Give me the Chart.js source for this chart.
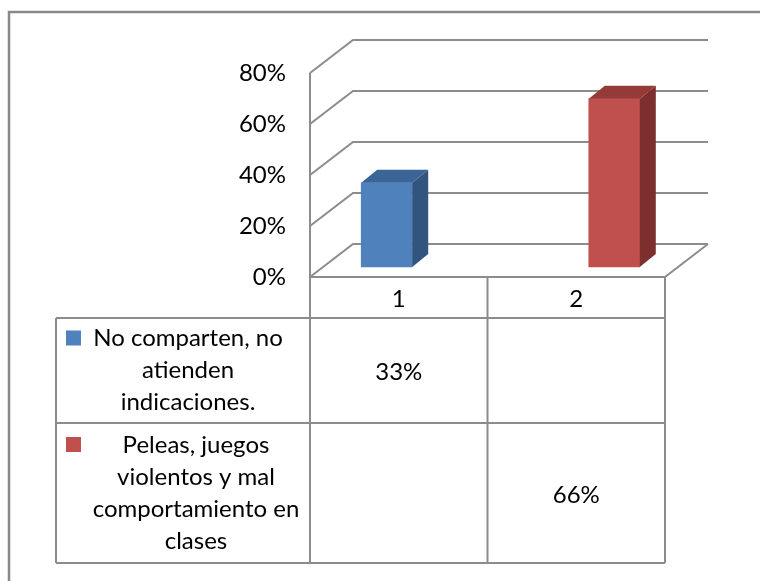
<!DOCTYPE html>
<html lang="es">
<head>
    <meta charset="UTF-8">
    <title>Conductas en clase</title>
    <script src="https://cdn.jsdelivr.net/npm/chart.js"></script>
    <style>
        html, body {
            margin: 0;
            padding: 0;
            background-color: #ffffff;
        }
        .chart-box {
            position: relative;
            width: 760px;
            height: 581px;
        }
    </style>
</head>
<body>
    <div class="chart-box">
        <canvas id="conductasChart"></canvas>
    </div>

    <script>
        // categorias y series
        const categories = ['1', '2'];
        const seriesLabels = [
            ['No comparten, no', 'atienden', 'indicaciones.'],
            ['Peleas, juegos', 'violentos y mal', 'comportamiento en', 'clases']
        ];
        const noComparten = [33, null];
        const peleas = [null, 66];
        const yMax = 80;
        const yStep = 20;

        const FONT = "Lato, 'Liberation Sans', sans-serif";
        const FONT_SIZE = 24;
        const LINE = '#8c8c8c';

        const colors = [
            { front: '#4f81bd', top: '#3b6497', side: '#32557f' },
            { front: '#c0504d', top: '#943b38', side: '#7c2f2d' }
        ];

        // 3D look: floor depth, where the bars sit in it, and bar thickness
        const depth = { dx: 43, dy: -33 };
        const barShift = { dx: 13, dy: -10 };
        const barDepth = { dx: 16, dy: -13 };

        const frame = {
            id: 'frame',
            beforeDraw(chart) {
                const { ctx, width, height } = chart;
                ctx.save();
                ctx.fillStyle = '#ffffff';
                ctx.fillRect(0, 0, width, height);
                ctx.strokeStyle = '#898989';
                ctx.lineWidth = 2.5;
                ctx.beginPath();
                ctx.moveTo(9, height + 5);
                ctx.lineTo(9, 12);
                ctx.lineTo(width + 5, 12);
                ctx.stroke();
                ctx.restore();
            }
        };

        const walls = {
            id: 'walls',
            beforeDatasetsDraw(chart) {
                const { ctx, chartArea: a, scales: { y } } = chart;
                ctx.save();
                ctx.strokeStyle = LINE;
                ctx.lineWidth = 2;
                ctx.beginPath();
                y.ticks.forEach(t => {
                    const py = y.getPixelForValue(t.value);
                    ctx.moveTo(a.left, py);
                    ctx.lineTo(a.left + depth.dx, py + depth.dy);
                    ctx.lineTo(a.right + depth.dx, py + depth.dy);
                });
                ctx.moveTo(a.left, a.top);
                ctx.lineTo(a.left, a.bottom);
                ctx.lineTo(a.right, a.bottom);
                ctx.lineTo(a.right + depth.dx, a.bottom + depth.dy);
                ctx.stroke();
                ctx.restore();

                // bars stand a little way back on the floor
                ctx.save();
                ctx.translate(barShift.dx, barShift.dy);
            },
            afterDatasetsDraw(chart) {
                const { ctx } = chart;
                chart.data.datasets.forEach((ds, i) => {
                    const meta = chart.getDatasetMeta(i);
                    meta.data.forEach((bar, j) => {
                        if (ds.data[j].y == null) return;
                        const { x, y, base, width } = bar.getProps(['x', 'y', 'base', 'width'], true);
                        const l = x - width / 2;
                        const r = x + width / 2;
                        const c = colors[i];

                        ctx.fillStyle = c.side;
                        ctx.beginPath();
                        ctx.moveTo(r, y);
                        ctx.lineTo(r + barDepth.dx, y + barDepth.dy);
                        ctx.lineTo(r + barDepth.dx, base + barDepth.dy);
                        ctx.lineTo(r, base);
                        ctx.closePath();
                        ctx.fill();

                        ctx.fillStyle = c.top;
                        ctx.beginPath();
                        ctx.moveTo(l, y);
                        ctx.lineTo(l + barDepth.dx, y + barDepth.dy);
                        ctx.lineTo(r + barDepth.dx, y + barDepth.dy);
                        ctx.lineTo(r, y);
                        ctx.closePath();
                        ctx.fill();
                    });
                });
                ctx.restore();
            }
        };

        // data table under the plot with legend keys
        const dataTable = {
            id: 'dataTable',
            afterDraw(chart) {
                const { ctx, chartArea: a } = chart;
                const colW = (a.right - a.left) / categories.length;
                const headerBottom = 318;
                const rowBottoms = [423, 563];
                const tableLeft = 56;
                const labelCenters = [188, 196];
                const lineH = 32;
                const values = [noComparten, peleas];

                ctx.save();
                ctx.strokeStyle = LINE;
                ctx.lineWidth = 2;
                ctx.beginPath();
                for (let k = 0; k <= categories.length; k++) {
                    const px = a.left + colW * k;
                    ctx.moveTo(px, a.bottom);
                    ctx.lineTo(px, rowBottoms[rowBottoms.length - 1]);
                }
                ctx.moveTo(tableLeft, headerBottom);
                ctx.lineTo(tableLeft, rowBottoms[rowBottoms.length - 1]);
                [headerBottom, ...rowBottoms].forEach(py => {
                    ctx.moveTo(tableLeft, py);
                    ctx.lineTo(a.right, py);
                });
                ctx.stroke();

                ctx.fillStyle = '#000000';
                ctx.font = FONT_SIZE + 'px ' + FONT;
                ctx.textAlign = 'center';
                ctx.textBaseline = 'middle';
                categories.forEach((c, k) => {
                    ctx.fillText(c, a.left + colW * (k + 0.5), (a.bottom + headerBottom) / 2 + 2);
                });

                let top = headerBottom;
                seriesLabels.forEach((lines, i) => {
                    const bottom = rowBottoms[i];
                    const mid = (top + bottom) / 2;
                    const firstY = mid - (lines.length - 1) * lineH / 2;

                    ctx.fillStyle = colors[i].front;
                    ctx.fillRect(66, firstY - 8, 15, 15);

                    ctx.fillStyle = '#000000';
                    lines.forEach((t, n) => ctx.fillText(t, labelCenters[i], firstY + n * lineH));

                    values[i].forEach((v, k) => {
                        if (v == null) return;
                        ctx.fillText(v + '%', a.left + colW * (k + 0.5), mid + 2);
                    });
                    top = bottom;
                });
                ctx.restore();
            }
        };

        const toPoints = vals => categories.map((c, i) => ({ x: i + 1, y: vals[i] }));

        new Chart(document.getElementById('conductasChart'), {
            type: 'bar',
            data: {
                datasets: [
                    {
                        label: seriesLabels[0].join(' '),
                        data: toPoints(noComparten),
                        backgroundColor: colors[0].front,
                        grouped: false,
                        barThickness: 51,
                        clip: false
                    },
                    {
                        label: seriesLabels[1].join(' '),
                        data: toPoints(peleas),
                        backgroundColor: colors[1].front,
                        grouped: false,
                        barThickness: 51,
                        clip: false
                    }
                ]
            },
            options: {
                responsive: true,
                maintainAspectRatio: false,
                animation: false,
                layout: {
                    padding: { left: 0, top: 73, right: 95, bottom: 304 }
                },
                plugins: {
                    legend: { display: false },
                    tooltip: { enabled: false }
                },
                scales: {
                    x: {
                        type: 'linear',
                        min: 0.72,
                        max: 2.28,
                        offset: false,
                        display: false,
                        ticks: { stepSize: 1 },
                        grid: { offset: false }
                    },
                    y: {
                        min: 0,
                        max: yMax,
                        ticks: {
                            stepSize: yStep,
                            padding: 24,
                            color: '#000000',
                            font: { family: FONT, size: FONT_SIZE },
                            callback: v => v + '%'
                        },
                        grid: { display: false, drawTicks: false },
                        border: { display: false },
                        afterFit(scale) { scale.width = 310; }
                    }
                }
            },
            plugins: [frame, walls, dataTable]
        });
    </script>
</body>
</html>
